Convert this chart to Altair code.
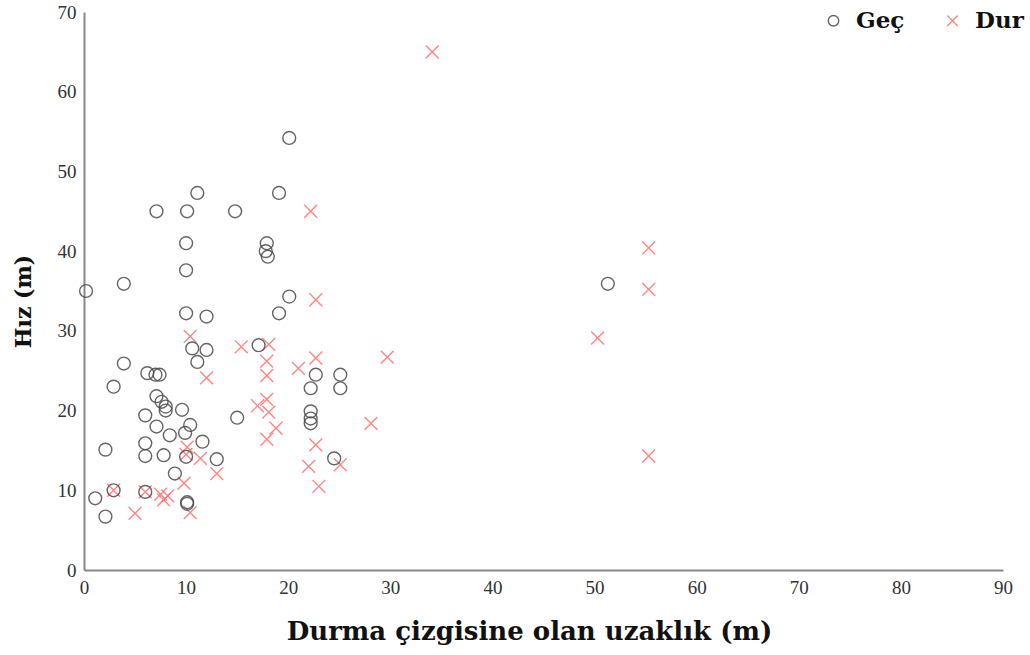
import altair as alt
import pandas as pd

# Geç (vehicle passed) observations: distance to stop line (m), speed
gec_x = [0.2, 3.9, 7.1, 10.1, 11.1, 14.8, 10.0, 10.0, 10.0, 12.0, 20.1, 19.1,
         17.9, 17.8, 18.0, 20.1, 19.1, 10.6, 12.0, 11.1, 17.1, 22.7, 22.2, 25.1,
         25.1, 22.2, 22.2, 22.2, 24.5, 15.0, 13.0, 3.9, 2.9, 6.2, 7.0, 7.4,
         7.1, 7.6, 8.0, 8.0, 6.0, 9.6, 7.1, 8.4, 10.4, 9.9, 11.6, 6.0, 6.0,
         7.8, 2.1, 10.0, 8.9, 2.9, 6.0, 10.1, 10.1, 1.1, 2.1, 51.3]
gec_y = [35.0, 35.9, 45.0, 45.0, 47.3, 45.0, 41.0, 37.6, 32.2, 31.8, 54.2, 47.3,
         41.0, 40.0, 39.3, 34.3, 32.2, 27.8, 27.6, 26.1, 28.2, 24.5, 22.8, 24.5,
         22.8, 19.9, 19.0, 18.4, 14.0, 19.1, 13.9, 25.9, 23.0, 24.7, 24.5, 24.5,
         21.8, 21.1, 20.5, 20.0, 19.4, 20.1, 18.0, 16.9, 18.2, 17.2, 16.1, 15.9, 14.3,
         14.4, 15.1, 14.2, 12.1, 10.0, 9.8, 8.5, 8.3, 9.0, 6.7, 35.9]

# Dur (vehicle stopped) observations
dur_x = [34.1, 22.2, 22.7, 55.3, 55.3, 50.3, 55.3, 10.4, 12.0, 15.4, 18.1, 17.9,
         17.9, 17.0, 17.9, 18.1, 18.8, 17.9, 21.0, 22.7, 29.7, 28.1, 22.7, 25.1,
         22.0, 23.0, 13.0, 10.0, 10.1, 11.4, 9.8, 2.9, 6.0, 7.5, 7.8, 8.2, 10.4, 5.0]
dur_y = [65.0, 45.0, 33.9, 40.4, 35.2, 29.1, 14.3, 29.3, 24.1, 28.0, 28.3, 26.2,
         24.4, 20.6, 21.4, 19.8, 17.8, 16.4, 25.3, 26.6, 26.7, 18.4, 15.7, 13.2,
         13.0, 10.5, 12.1, 14.5, 15.4, 14.0, 10.9, 10.0, 9.8, 9.5, 8.8, 9.3, 7.2, 7.1]

groups = ["Geç", "Dur"]
x_ticks = list(range(0, 91, 10))
y_ticks = list(range(0, 71, 10))

df = pd.concat([
    pd.DataFrame({"x": dur_x, "y": dur_y, "grup": "Dur"}),
    pd.DataFrame({"x": gec_x, "y": gec_y, "grup": "Geç"}),
], ignore_index=True)

TICK_FONT = "Liberation Serif"
TITLE_FONT = "DejaVu Serif"
X_SHAPE = "M-1,-1L1,1M1,-1L-1,1"

chart = alt.Chart(df).mark_point(filled=False, strokeWidth=1.4, size=165, opacity=0.85).encode(
    x=alt.X("x:Q", scale=alt.Scale(domain=[0, 90], nice=False),
            axis=alt.Axis(values=x_ticks, title="Durma çizgisine olan uzaklık (m)",
                          grid=False, ticks=False, labelPadding=8, titlePadding=21,
                          labelFlush=False, titleFontSize=26, titleX=445)),
    y=alt.Y("y:Q", scale=alt.Scale(domain=[0, 70], nice=False),
            axis=alt.Axis(values=y_ticks, title="Hız (m)", grid=False, ticks=False,
                          labelPadding=8, titlePadding=22, labelFlush=False,
                          titleFontSize=22, titleY=289)),
    color=alt.Color("grup:N", scale=alt.Scale(domain=groups, range=["#4a4a4a", "#ff7070"]),
                    legend=alt.Legend(title=None, orient="none", legendX=738, legendY=-3,
                                      direction="horizontal", labelFontSize=23,
                                      labelFont=TITLE_FONT, labelFontWeight="bold",
                                      labelColor="#111",
                                      symbolSize=110, symbolStrokeWidth=1.4,
                                      columnPadding=36, labelOffset=11)),
    shape=alt.Shape("grup:N", scale=alt.Scale(domain=groups, range=["circle", X_SHAPE]),
                    legend=None),
).properties(
    width=919,
    height=558,
    autosize=alt.AutoSizeParams(type="none"),
    padding={"left": 84, "top": 12, "right": 27, "bottom": 85},
    background="white",
).configure_view(
    stroke=None
).configure_axis(
    domainColor="#888888",
    domainWidth=2,
    labelFont=TICK_FONT,
    labelFontSize=19,
    labelColor="#333333",
    titleFont=TITLE_FONT,
    titleFontWeight="bold",
    titleColor="#111111",
)

chart.save("out.html", embed_options={"renderer": "svg", "actions": False})
